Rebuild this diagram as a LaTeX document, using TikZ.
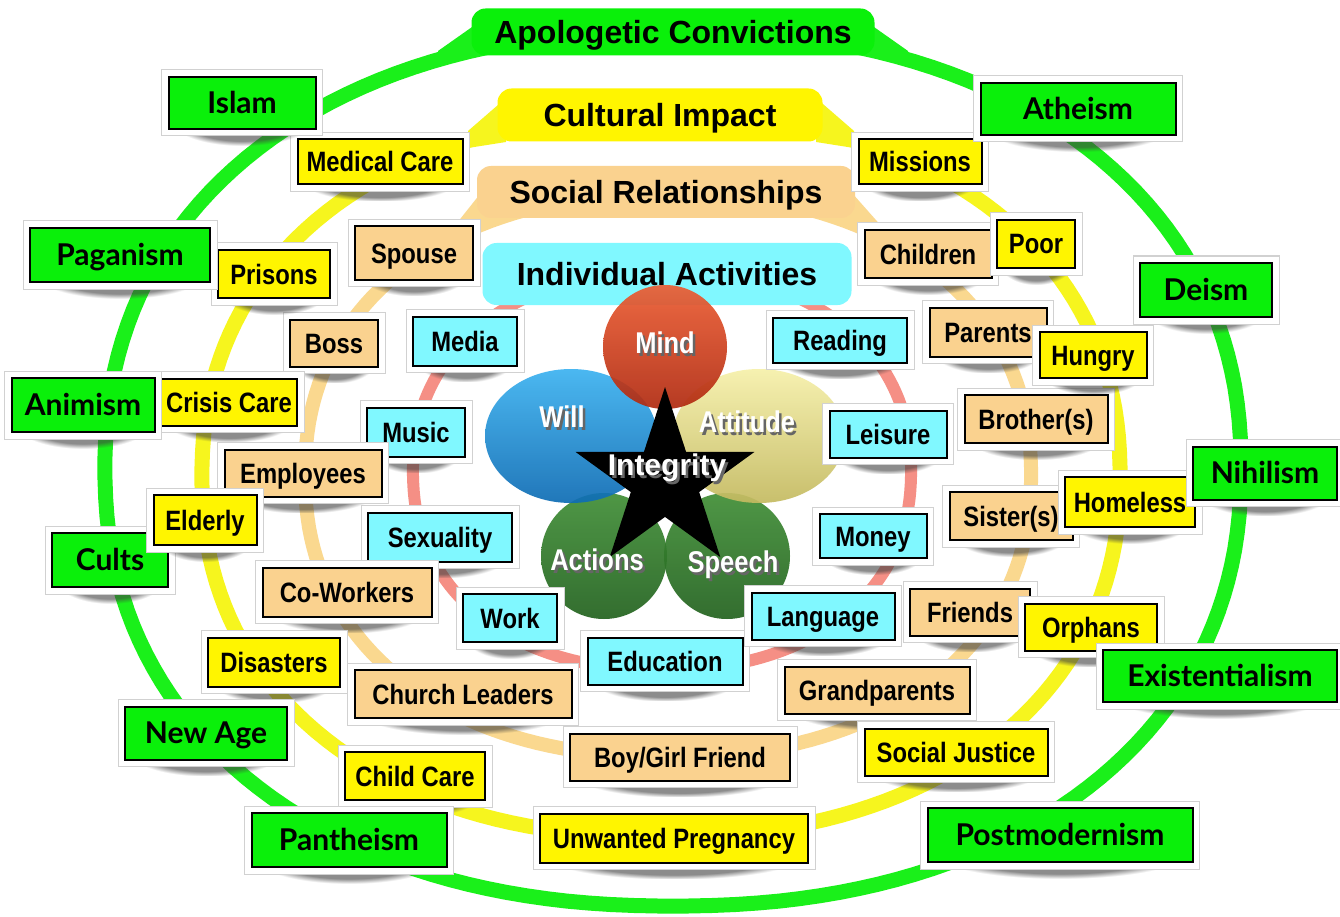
\documentclass[tikz,border=0pt]{standalone}
\usepackage{fontspec}
\setmainfont{Liberation Sans}
\newfontfamily\narrowfont[FakeStretch=0.85]{Liberation Sans}
\newfontfamily\comicfont{Lato}
\usetikzlibrary{shapes.geometric,shadows,fadings}
\definecolor{ringgreen}{RGB}{26,240,26}
\definecolor{ringyellow}{RGB}{246,245,30}
\definecolor{ringtan}{RGB}{250,216,143}
\definecolor{ringpink}{RGB}{245,143,133}
\definecolor{labgreen}{RGB}{10,240,10}
\definecolor{labyellow}{RGB}{255,245,0}
\definecolor{labtan}{RGB}{250,210,143}
\definecolor{labcyan}{RGB}{128,248,255}
\definecolor{mindtop}{RGB}{236,92,50}
\definecolor{mindbot}{RGB}{176,42,16}
\definecolor{willtop}{RGB}{60,178,240}
\definecolor{willbot}{RGB}{14,108,180}
\definecolor{atttop}{RGB}{246,240,170}
\definecolor{attbot}{RGB}{196,186,96}
\definecolor{lobetop}{RGB}{64,142,54}
\definecolor{lobebot}{RGB}{34,98,30}
\newcommand{\superring}[5]{%
  \draw[#5] plot[domain=1:359, samples=180, variable=\t]
   ({#1+#3*sign(cos(\t))*abs(cos(\t))^0.909}, {#2+#4*sign(sin(\t))*abs(sin(\t))^0.909}) -- cycle;}
\newcommand{\lbl}[6]{\node[#1, minimum width=#4pt, minimum height=#5pt] (#2) at (#3) {#6};}
\newcommand{\shadowed}[1]{\makebox[0pt][l]{\hspace{2.5pt}\raisebox{-2.5pt}{\textcolor{black!60}{#1}}}#1}
\tikzset{
  lab/.style={draw=black, line width=2pt, inner sep=0pt, align=center,
    general shadow={fill=black!75, shadow yshift=-19pt, shadow scale=0.95, opacity=0.6,
      path fading=circle with fuzzy edge 20 percent},
    preaction={draw=black!18, line width=15pt},
    preaction={draw=white, line width=13pt}},
  gl/.style={lab, fill=labgreen, text height=21.5pt, text depth=0pt, font=\comicfont\bfseries\fontsize{30}{32}\selectfont},
  yl/.style={lab, fill=labyellow, text height=20pt, text depth=0pt, font=\narrowfont\bfseries\fontsize{28}{30}\selectfont},
  tl/.style={lab, fill=labtan, text height=20pt, text depth=0pt, font=\narrowfont\bfseries\fontsize{28}{30}\selectfont},
  cl/.style={lab, fill=labcyan, text height=20pt, text depth=0pt, font=\narrowfont\bfseries\fontsize{28}{30}\selectfont},
  tbox/.style={rounded corners=14pt, inner sep=0pt, text height=23pt, text depth=0pt, font=\bfseries\fontsize{32}{34}\selectfont},
  ctext/.style={text=white, inner sep=0pt, text height=21.5pt, text depth=0pt, font=\narrowfont\bfseries\fontsize{30}{32}\selectfont},
  lobe/.style={inner sep=0pt, fill opacity=0.92}
}
\begin{document}
\begin{tikzpicture}[x=1pt, y=-1pt]
\useasboundingbox (0,0) rectangle (1340,917);
\fill[white] (0,0) rectangle (1340,917);
% rings
\superring{673}{468}{568}{438}{ringgreen, line width=15pt}
\superring{661}{476}{459}{361}{ringyellow, line width=15pt}
\superring{668}{475}{363}{282}{ringtan, line width=14pt}
\superring{662}{471}{249}{199}{ringpink, line width=12pt}
% flares where the rings meet the title boxes
\fill[ringgreen] (438,51) -- (482,20) -- (482,52) -- (438,67) -- cycle;
\fill[ringgreen] (908,51) -- (864,20) -- (864,52) -- (908,67) -- cycle;
\fill[ringyellow] (468,131) -- (506,98) -- (506,142) -- (468,148) -- cycle;
\fill[ringyellow] (854,131) -- (816,98) -- (816,142) -- (854,148) -- cycle;
\fill[ringtan] (453,228) -- (488,184) -- (488,218) -- (453,242) -- cycle;
\fill[ringtan] (883,228) -- (844,184) -- (844,218) -- (883,242) -- cycle;
% title boxes
\node[tbox, fill=labgreen, minimum width=403pt, minimum height=47pt] (apol) at (673,32) {Apologetic Convictions};
\node[tbox, fill=labyellow, minimum width=325pt, minimum height=53pt] (cult) at (660,115) {Cultural Impact};
\node[tbox, fill=labtan, minimum width=378pt, minimum height=52pt] (soc) at (666,192) {Social Relationships};
\node[tbox, fill=labcyan, minimum width=369pt, minimum height=62pt] (indiv) at (667,274) {Individual Activities};
% flower
\node[lobe, circle, minimum size=126pt, top color=lobetop, bottom color=lobebot] (actions) at (604,556) {};
\node[lobe, circle, minimum size=126pt, top color=lobetop, bottom color=lobebot] (speech) at (727,556) {};
\node[lobe, ellipse, minimum width=172pt, minimum height=134pt, top color=willtop, bottom color=willbot] (will) at (571,436) {};
\node[lobe, ellipse, minimum width=172pt, minimum height=134pt, top color=atttop, bottom color=attbot] (attitude) at (759,436) {};
\node[lobe, circle, minimum size=124pt, top color=mindtop, bottom color=mindbot] (mind) at (665,347) {};
\node[star, star points=5, star point ratio=2.618, minimum size=188pt, inner sep=0pt, fill=black] (star) at (665,481) {};
\node[ctext] (mindt) at (665,343) {\shadowed{Mind}};
\node[ctext] (willt) at (562,417) {\shadowed{Will}};
\node[ctext] (attt) at (747,422) {\shadowed{Attitude}};
\node[ctext, font=\bfseries\fontsize{30}{32}\selectfont] (intt) at (667,465) {\shadowed{Integrity}};
\node[ctext] (actt) at (597,560) {\shadowed{Actions}};
\node[ctext] (spet) at (733,562) {\shadowed{Speech}};
% individual activities
\lbl{cl}{media}{465,341}{104}{49}{Media}
\lbl{cl}{music}{416,432}{98}{49}{Music}
\lbl{cl}{sexuality}{440,537}{144}{49}{Sexuality}
\lbl{cl}{work}{510,618}{94}{48}{Work}
\lbl{cl}{education}{665,661}{155}{47}{Education}
\lbl{cl}{language}{823,616}{143}{47}{Language}
\lbl{cl}{money}{873,536}{107}{44}{Money}
\lbl{cl}{leisure}{888,434}{117}{47}{Leisure}
\lbl{cl}{reading}{840,340}{134}{45}{Reading}
% social relationships
\lbl{tl}{spouse}{414,253}{118}{53}{Spouse}
\lbl{tl}{boss}{334,343}{88}{47}{Boss}
\lbl{tl}{employees}{303,473}{157}{47}{Employees}
\lbl{tl}{coworkers}{347,592}{169}{49}{Co-Workers}
\lbl{tl}{church}{463,694}{217}{48}{Church Leaders}
\lbl{tl}{boygirl}{680,757}{220}{47}{Boy/Girl Friend}
\lbl{tl}{grand}{877,690}{185}{47}{Grandparents}
\lbl{tl}{friends}{970,612}{120}{47}{Friends}
\lbl{tl}{sisters}{1011,516}{123}{48}{Sister(s)}
\lbl{tl}{brothers}{1036,419}{143}{48}{Brother(s)}
\lbl{tl}{parents}{988,332}{117}{49}{Parents}
\lbl{tl}{children}{928,254}{127}{48}{Children}
% cultural impact
\lbl{yl}{medical}{380,162}{165}{45}{Medical Care}
\lbl{yl}{prisons}{274,274}{112}{48}{Prisons}
\lbl{yl}{crisis}{229,402}{136}{47}{Crisis Care}
\lbl{yl}{disasters}{274,662}{132}{49}{Disasters}
\lbl{yl}{childcare}{415,776}{140}{48}{Child Care}
\lbl{yl}{unwanted}{674,838}{268}{49}{Unwanted Pregnancy}
\lbl{yl}{justice}{956,752}{183}{47}{Social Justice}
\lbl{yl}{orphans}{1091,627}{132}{47}{Orphans}
\lbl{yl}{homeless}{1130,502}{130}{50}{Homeless}
\lbl{yl}{hungry}{1093,355}{107}{46}{Hungry}
\lbl{yl}{poor}{1036,244}{78}{48}{Poor}
\lbl{yl}{missions}{920,162}{123}{45}{Missions}
% apologetic convictions
\lbl{gl}{islam}{242,103}{147}{52}{Islam}
\lbl{gl}{paganism}{120,255}{180}{54}{Paganism}
\lbl{gl}{animism}{83,405}{143}{54}{Animism}
\lbl{gl}{cults}{110,560}{116}{54}{Cults}
\lbl{gl}{newage}{206,733}{162}{53}{New Age}
\lbl{gl}{pantheism}{349,840}{195}{54}{Pantheism}
\lbl{gl}{atheism}{1078,109}{195}{52}{Atheism}
\lbl{gl}{deism}{1206,290}{132}{54}{Deism}
\lbl{gl}{nihilism}{1265,473}{144}{53}{Nihilism}
\lbl{gl}{existentialism}{1220,676}{234}{52}{Existentialism}
\lbl{gl}{postmodernism}{1060,835}{265}{54}{Postmodernism}
% drawn last: lies over the Cults label
\lbl{yl}{elderly}{205,520}{103}{50}{Elderly}
\end{tikzpicture}
\end{document}
